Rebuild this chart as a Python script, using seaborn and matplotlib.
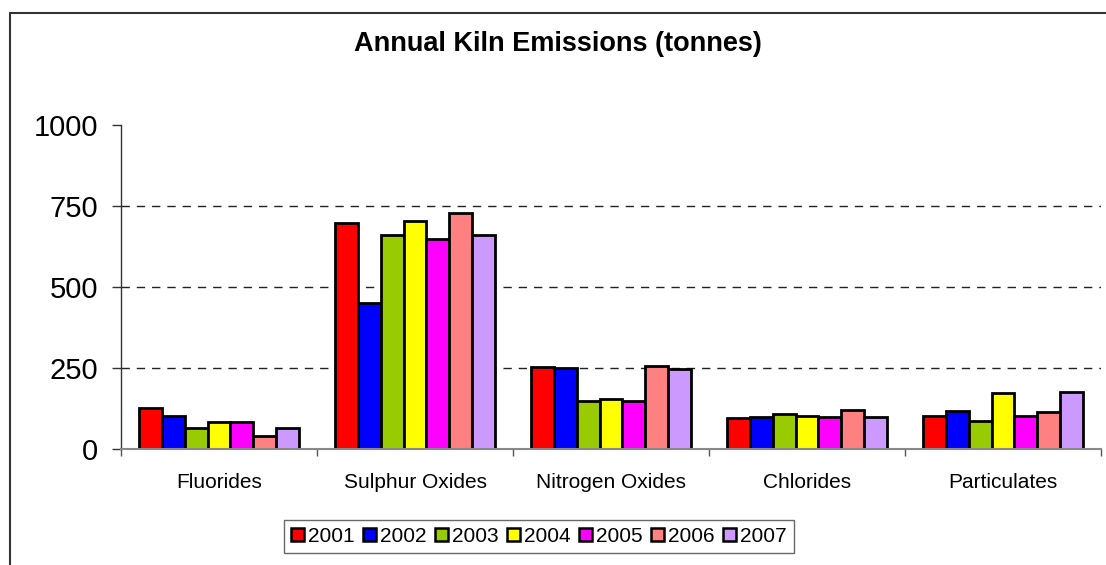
import matplotlib
matplotlib.use("Agg")
import matplotlib.pyplot as plt
import numpy as np
import pandas as pd
import seaborn as sns
from matplotlib.lines import Line2D

pollutants = ["Fluorides", "Sulphur Oxides", "Nitrogen Oxides", "Chlorides", "Particulates"]
years = ["2001", "2002", "2003", "2004", "2005", "2006", "2007"]
v2001 = [124, 698, 253, 93, 100]
v2002 = [101, 449, 249, 96, 115]
v2003 = [62, 660, 148, 106, 85]
v2004 = [81, 704, 153, 100, 172]
v2005 = [81, 649, 148, 98, 100]
v2006 = [39, 729, 256, 119, 113]
v2007 = [62, 660, 247, 96, 174]
year_colors = ["#FF0000", "#0000FF", "#99CC00", "#FFFF00", "#FF00FF", "#FF8080", "#CC99FF"]
yticks = [0, 250, 500, 750, 1000]

series = [v2001, v2002, v2003, v2004, v2005, v2006, v2007]
rows = []
for yr, vals in zip(years, series):
    for p, v in zip(pollutants, vals):
        rows.append({"Pollutant": p, "Year": yr, "Tonnes": v})
emissions = pd.DataFrame(rows)

sns.set_style("white")
plt.rcParams["font.family"] = ["Liberation Sans", "DejaVu Sans"]
plt.rcParams["text.color"] = "black"
plt.rcParams["xtick.color"] = "black"
plt.rcParams["ytick.color"] = "black"

fig = plt.figure(figsize=(11.06, 5.65), dpi=100)
ax = fig.add_axes([121 / 1106, 1 - 448.5 / 565, 980 / 1106, 323.5 / 565])

sns.barplot(data=emissions, x="Pollutant", y="Tonnes", hue="Year", order=pollutants,
            hue_order=years, palette=year_colors, saturation=1, width=0.82,
            edgecolor="black", linewidth=2.0, ax=ax)

ax.set_xlim(-0.5, len(pollutants) - 0.5)
ax.set_ylim(0, 1000)
ax.set_yticks(yticks)
ax.set_yticklabels([str(t) for t in yticks], fontsize=21)
for t in yticks[1:-1]:
    ax.axhline(t, color="#222222", linewidth=1.0, linestyle=(0, (6, 5)), zorder=0)

ax.set_xticks(range(len(pollutants)))
ax.set_xticklabels(pollutants, fontsize=15)
ax.set_xticks(np.arange(-0.5, len(pollutants)), minor=True)
ax.tick_params(axis="x", which="major", length=0, pad=18)
ax.tick_params(axis="x", which="minor", length=5, width=1, color="#555555", direction="out", bottom=True)
ax.tick_params(axis="y", length=6.5, width=1, color="#333333", direction="out", pad=10, left=True)
ax.set_xlabel("")
ax.set_ylabel("")

for s in ["top", "right"]:
    ax.spines[s].set_visible(False)
ax.spines["left"].set_color("#333333")
ax.spines["left"].set_linewidth(1.0)
ax.spines["bottom"].set_color("#888888")
ax.spines["bottom"].set_linewidth(1.5)

fig.text(558 / 1106, 1 - 44 / 565, "Annual Kiln Emissions (tonnes)", ha="center", va="center",
         fontsize=19.5, fontweight="bold")

handles, labels = ax.get_legend_handles_labels()
leg = ax.legend(handles, labels, loc="center", bbox_to_anchor=(539 / 1106, 1 - 536.5 / 565),
                bbox_transform=fig.transFigure, ncol=7, fontsize=15, frameon=True, fancybox=False,
                handlelength=0.63, handleheight=0.63, handletextpad=0.19, columnspacing=0.4,
                borderpad=0.35, borderaxespad=0)
leg.get_frame().set_edgecolor("#444444")
leg.get_frame().set_linewidth(1.0)
for h in leg.legend_handles:
    h.set_edgecolor("black")
    h.set_linewidth(1.8)

# chart-area border (only top and left edges fall inside the image)
x0, y0 = 9.5 / 1106, 1 - 12.5 / 565
fig.lines.append(Line2D([x0, 1.0], [y0, y0], transform=fig.transFigure, color="#333333", linewidth=1.5))
fig.lines.append(Line2D([x0, x0], [0.0, y0], transform=fig.transFigure, color="#333333", linewidth=1.5))

fig.savefig("out.png", dpi=100)
